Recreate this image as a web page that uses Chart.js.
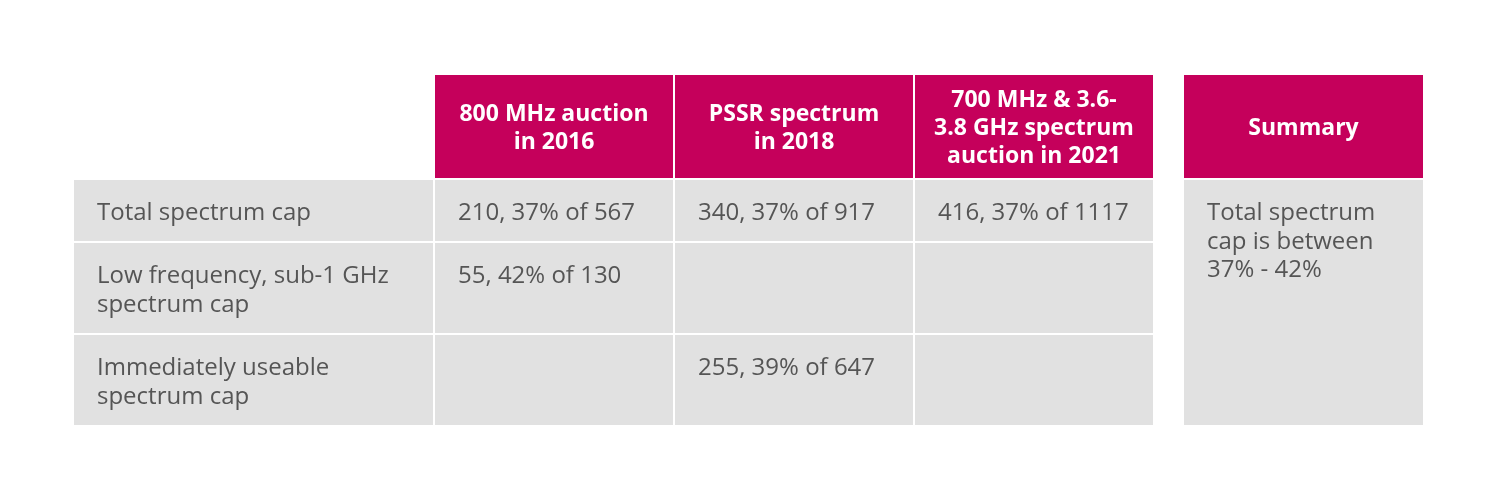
<!DOCTYPE html>
<html>
<head>
<meta charset="utf-8">
<script src="https://cdn.jsdelivr.net/npm/chart.js@4"></script>
<style>
  body { margin: 0; background: #ffffff; }
  #wrap { width: 1500px; height: 500px; }
</style>
</head>
<body>
<div id="wrap"><canvas id="capTable"></canvas></div>
<script>
// table content
const headers = [
    ['800 MHz auction', 'in 2016'],
    ['PSSR spectrum', 'in 2018'],
    ['700 MHz & 3.6-', '3.8 GHz spectrum', 'auction in 2021']
];
const summaryTitle = 'Summary';
const rowLabels = [
    ['Total spectrum cap'],
    ['Low frequency, sub-1 GHz', 'spectrum cap'],
    ['Immediately useable', 'spectrum cap']
];
const capValues   = [[210, 340, 416], [55, null, null], [null, 255, null]];
const capPercents = [[37, 37, 37],    [42, null, null], [null, 39, null]];
const capTotals   = [[567, 917, 1117],[130, null, null],[null, 647, null]];
const summaryRange = [37, 42];

// layout (table units, mapped to pixels by the chart scales)
const colWidths = [361, 240, 240, 240, 29, 241];   // label, 3 auctions, spacer, summary
const rowHeights = [105, 63, 92, 90];                // header, 3 rows
const gap = 2;
const tableLeft = 74, tableTop = 75;
const MAGENTA = '#c5005b';
const GREY = '#e1e1e1';
const TEXT = '#555555';
const FONT = '"Open Sans"';

const colEdges = [];
let acc = 0;
colWidths.forEach(w => { colEdges.push([acc, acc + w - gap]); acc += w; });
const rowEdges = [];
acc = 0;
rowHeights.forEach(h => { rowEdges.push([acc, acc + h - gap]); acc += h; });
rowEdges[rowEdges.length - 1][1] += gap;

const summaryLines = ['Total spectrum', 'cap is between', `${summaryRange[0]}% - ${summaryRange[1]}%`];

const tablePlugin = {
    id: 'tablePlugin',
    beforeDatasetsDraw(chart) {
        const ctx = chart.ctx;
        const xs = chart.scales.x, ys = chart.scales.y;
        const X = v => xs.getPixelForValue(v);
        const Y = v => ys.getPixelForValue(v);

        let cell = function(c0, c1, r0, r1, color) {
            const x0 = X(colEdges[c0][0]), x1 = X(colEdges[c1][1]);
            const y0 = Y(rowEdges[r0][0]), y1 = Y(rowEdges[r1][1]);
            ctx.fillStyle = color;
            ctx.fillRect(x0, y0, x1 - x0, y1 - y0);
            return {x0, x1, y0, y1};
        };

        let headerText = function(box, lines) {
            ctx.fillStyle = '#ffffff';
            ctx.font = `bold 23px ${FONT}`;
            ctx.textAlign = 'center';
            ctx.textBaseline = 'alphabetic';
            const cx = (box.x0 + box.x1) / 2, cy = (box.y0 + box.y1) / 2;
            lines.forEach((t, i) => {
                ctx.fillText(t, cx, cy + (i - (lines.length - 1) / 2) * 28 + 8.5);
            });
        };

        let bodyText = function(box, lines) {
            ctx.fillStyle = TEXT;
            ctx.font = `24px ${FONT}`;
            ctx.textAlign = 'left';
            ctx.textBaseline = 'alphabetic';
            lines.forEach((t, i) => {
                ctx.fillText(t, box.x0 + 23, box.y0 + 40 + i * 28.5);
            });
        };

        ctx.save();
        // header row
        headers.forEach((lines, i) => {
            headerText(cell(i + 1, i + 1, 0, 0, MAGENTA), lines);
        });
        headerText(cell(5, 5, 0, 0, MAGENTA), [summaryTitle]);

        // body rows
        rowLabels.forEach((lines, r) => {
            bodyText(cell(0, 0, r + 1, r + 1, GREY), lines);
            for (let c = 0; c < headers.length; c++) {
                const box = cell(c + 1, c + 1, r + 1, r + 1, GREY);
                if (capValues[r][c] != null) {
                    bodyText(box, [`${capValues[r][c]}, ${capPercents[r][c]}% of ${capTotals[r][c]}`]);
                }
            }
        });

        // merged summary cell
        bodyText(cell(5, 5, 1, rowLabels.length, GREY), summaryLines);
        ctx.restore();
    }
};

const capChart = new Chart(document.getElementById('capTable').getContext('2d'), {
    type: 'scatter',
    data: { datasets: [] },
    options: {
        responsive: true,
        maintainAspectRatio: false,
        animation: false,
        layout: { padding: 0 },
        scales: {
            x: { type: 'linear', display: false, min: -tableLeft, max: 1500 - tableLeft },
            y: { type: 'linear', display: false, reverse: true, min: -tableTop, max: 500 - tableTop }
        },
        plugins: {
            legend: { display: false },
            tooltip: { enabled: false }
        }
    },
    plugins: [tablePlugin]
});
</script>
</body>
</html>
